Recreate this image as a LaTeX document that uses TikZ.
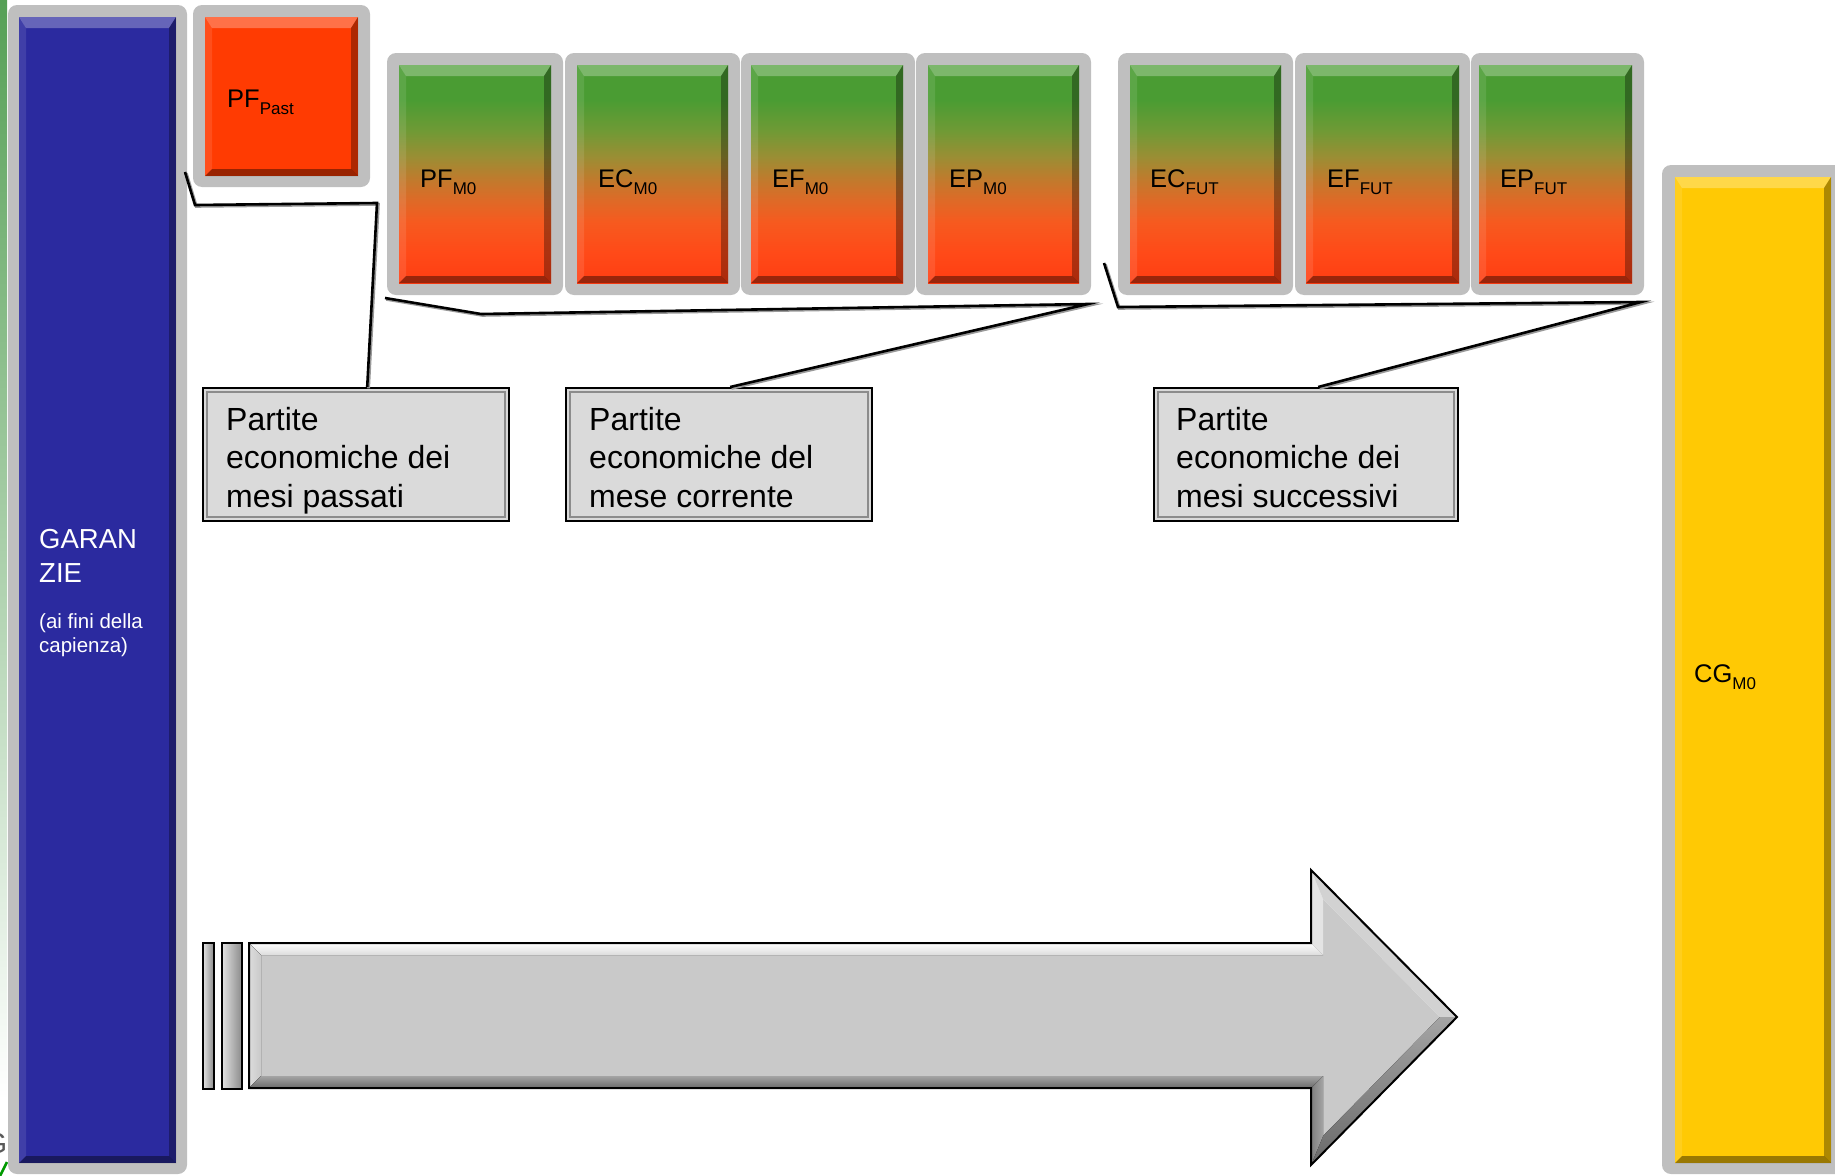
\documentclass[tikz,border=0pt]{standalone}
\usepackage{fontspec}
\setmainfont{Liberation Sans}
\usetikzlibrary{calc}
\definecolor{frameGray}{HTML}{BFBFBF}
\definecolor{blueFill}{HTML}{2B2A9F}
\definecolor{pastFill}{HTML}{FF3B02}
\definecolor{yelFill}{HTML}{FFC904}
\definecolor{gTop}{HTML}{4A9C33}
\definecolor{gB}{HTML}{6F9A35}
\definecolor{gC}{HTML}{9A8E34}
\definecolor{gD}{HTML}{BF7B2D}
\definecolor{gE}{HTML}{DE6A27}
\definecolor{gF}{HTML}{F65A1F}
\definecolor{gG}{HTML}{FF4A18}
\definecolor{gBot}{HTML}{FF3D12}
\definecolor{boxFill}{HTML}{DADADA}
\definecolor{innerLine}{HTML}{8C8C8C}
\definecolor{stripTop}{HTML}{56A056}
\definecolor{stripMid}{HTML}{BBD7B5}
\definecolor{arTop}{HTML}{F4F4F4}
\definecolor{arLeft}{HTML}{DCDCDC}
\definecolor{arHU}{HTML}{E4E4E4}
\definecolor{arDU}{HTML}{D2D2D2}
\definecolor{arDL}{HTML}{7E7E7E}
\definecolor{arHL}{HTML}{A4A4A4}
\definecolor{arBot}{HTML}{8E8E8E}
\definecolor{arIn}{HTML}{C9C9C9}
\definecolor{arDark}{HTML}{6A6A6A}
\definecolor{stripeL}{HTML}{E2E2E2}
\definecolor{stripeR}{HTML}{8A8A8A}
\pgfdeclareverticalshading{grd}{100bp}{color(0bp)=(gBot); color(25bp)=(gBot); color(32bp)=(gG); color(39bp)=(gF); color(44bp)=(gE); color(49bp)=(gD); color(54bp)=(gC); color(60bp)=(gB); color(67bp)=(gTop); color(100bp)=(gTop)}
\newcommand\sublab[2]{#1\raisebox{-7pt}{\fontsize{17pt}{17pt}\selectfont #2}}
\newcommand\fnLab{\fontsize{25.5pt}{30pt}\selectfont}
\newcommand\fnBox{\fontsize{32pt}{38pt}\selectfont}
\newcommand\fnGar{\fontsize{27.5pt}{33pt}\selectfont}
\newcommand\fnGarS{\fontsize{20.5pt}{24pt}\selectfont}
\begin{document}
\begin{tikzpicture}[x=1pt,y=-1pt,
  frame/.style={fill=frameGray, rounded corners=9pt},
  bevel/.style={path picture={
    \fill[white,opacity=.28] (path picture bounding box.north west) -- (path picture bounding box.north east) -- ([shift={(-7,11)}]path picture bounding box.north east) -- ([shift={(7,11)}]path picture bounding box.north west) -- cycle;
    \fill[white,opacity=.1] (path picture bounding box.north west) -- ([shift={(7,11)}]path picture bounding box.north west) -- ([shift={(7,-7)}]path picture bounding box.south west) -- (path picture bounding box.south west) -- cycle;
    \fill[black,opacity=.32] (path picture bounding box.north east) -- ([shift={(-7,11)}]path picture bounding box.north east) -- ([shift={(-7,-7)}]path picture bounding box.south east) -- (path picture bounding box.south east) -- cycle;
    \fill[black,opacity=.4] (path picture bounding box.south west) -- ([shift={(7,-7)}]path picture bounding box.south west) -- ([shift={(-7,-7)}]path picture bounding box.south east) -- (path picture bounding box.south east) -- cycle;
  }},
  cbox/.style={inner sep=0pt, outer sep=0pt, anchor=north west, bevel},
  gbox/.style={cbox, shade, shading=grd, minimum height=218pt},
  lab/.style={inner sep=0pt, anchor=base west, font=\fnLab},
  gar/.style={inner sep=0pt, anchor=base west, text=white},
  tbox/.style={draw=black, line width=2.4pt, fill=boxFill, inner sep=0pt, anchor=north west,
    minimum height=133pt,
    path picture={\draw[line width=2pt, innerLine] ([shift={(4,4)}]path picture bounding box.north west) rectangle ([shift={(-4,-4)}]path picture bounding box.south east);}},
  btxt/.style={inner sep=0pt, anchor=base west, font=\fnBox},
  callout/.style={draw=black, line width=2.6pt, line join=miter,
    preaction={draw=black!40, line width=3pt, transform canvas={shift={(1.3,1.3)}}}},
  stripe/.style={draw=black, line width=1.8pt, left color=stripeL, right color=stripeR}
]
\useasboundingbox (0,0) rectangle (1835,1175);
% left decorative strip and cut-off logo
\fill[top color=stripTop, middle color=stripMid, bottom color=white] (0,0) rectangle (7,1100);
\node[inner sep=0pt, anchor=base east, text=black!65, font=\fontsize{29pt}{30pt}\selectfont] (logoG) at (7.5,1153) {G};
\draw[green!60!black, line width=2.5pt] (0,1176) -- (7,1162);
% gray frames
\fill[frame] (8,5) rectangle (187,1174);
\fill[frame] (193,5) rectangle (370,187);
\foreach \a/\b in {387/563, 565/740, 741/915, 916/1091, 1118/1293, 1295/1470, 1471/1644}
  \fill[frame] (\a,53) rectangle (\b,295);
\fill[frame] (1662,165) rectangle (1850,1174);
% coloured boxes
\node[cbox, fill=blueFill, minimum width=157pt, minimum height=1146pt] (gar) at (19,17) {};
\node[cbox, fill=pastFill, minimum width=153pt, minimum height=159pt] (pfpast) at (205,17) {};
\node[gbox, minimum width=152pt] (pfm) at (399,65) {};
\node[gbox, minimum width=151pt] (ecm) at (577,65) {};
\node[gbox, minimum width=152pt] (efm) at (751,65) {};
\node[gbox, minimum width=151pt] (epm) at (928,65) {};
\node[gbox, minimum width=151pt] (ecf) at (1130,65) {};
\node[gbox, minimum width=153pt] (eff) at (1306,65) {};
\node[gbox, minimum width=153pt] (epf) at (1479,65) {};
\node[cbox, fill=yelFill, minimum width=156pt, minimum height=986pt] (cg) at (1675,177) {};
% labels
\node[lab] (lpfpast) at (227,107) {\sublab{PF}{Past}};
\node[lab] (lpfm) at (420,187) {\sublab{PF}{M0}};
\node[lab] (lecm) at (598,187) {\sublab{EC}{M0}};
\node[lab] (lefm) at (772,187) {\sublab{EF}{M0}};
\node[lab] (lepm) at (949,187) {\sublab{EP}{M0}};
\node[lab] (lecf) at (1150,187) {\sublab{EC}{FUT}};
\node[lab] (leff) at (1327,187) {\sublab{EF}{FUT}};
\node[lab] (lepf) at (1500,187) {\sublab{EP}{FUT}};
\node[lab] (lcg) at (1694,682) {\sublab{CG}{M0}};
\node[gar, font=\fnGar] (g1) at (39,548) {GARAN};
\node[gar, font=\fnGar] (g2) at (39,582) {ZIE};
\node[gar, font=\fnGarS] (g3) at (39,628) {(ai fini della};
\node[gar, font=\fnGarS] (g4) at (39,652) {capienza)};
% text boxes
\node[tbox, minimum width=306pt] (box1) at (202,387) {};
\node[tbox, minimum width=306pt] (box2) at (565,387) {};
\node[tbox, minimum width=304pt] (box3) at (1153,387) {};
\node[btxt] (b1a) at (226,430) {Partite};
\node[btxt] (b1b) at (226,468) {economiche dei};
\node[btxt] (b1c) at (226,507) {mesi passati};
\node[btxt] (b2a) at (589,430) {Partite};
\node[btxt] (b2b) at (589,468) {economiche del};
\node[btxt] (b2c) at (589,507) {mese corrente};
\node[btxt] (b3a) at (1176,430) {Partite};
\node[btxt] (b3b) at (1176,468) {economiche dei};
\node[btxt] (b3c) at (1176,507) {mesi successivi};
% callout brackets
\coordinate (c1a) at (185,172);
\coordinate (c1b) at (195,205);
\coordinate (c1c) at (377,203);
\coordinate (c2a) at (385,298);
\coordinate (c2b) at (481,314);
\coordinate (c2c) at (1088,304);
\coordinate (c3a) at (1104,263);
\coordinate (c3b) at (1118,307);
\coordinate (c3c) at (1641,302);
\draw[callout] (c1a) -- (c1b) -- (c1c) -- ($(box1.north)+(11,0)$);
\draw[callout] (c2a) -- (c2b) -- (c2c) -- ($(box2.north)+(11,0)$);
\draw[callout] (c3a) -- (c3b) -- (c3c) -- ($(box3.north)+(12,0)$);
% big arrow
\fill[arIn] (261,955) -- (1323,955) -- (1323,899) -- (1440,1017) -- (1323,1136) -- (1323,1076) -- (261,1076) -- cycle;
\fill[top color=white, bottom color=arLeft] (249,943) -- (1311,943) -- (1323,955) -- (261,955) -- cycle;
\fill[left color=arLeft, right color=arIn] (249,943) -- (261,955) -- (261,1076) -- (249,1088) -- cycle;
\fill[arHU] (1311,943) -- (1311,870) -- (1323,899) -- (1323,955) -- cycle;
\fill[arDU] (1311,870) -- (1457,1017) -- (1440,1017) -- (1323,899) -- cycle;
\fill[top color=arHL, bottom color=arDark] (1457,1017) -- (1311,1165) -- (1323,1136) -- (1440,1017) -- cycle;
\fill[left color=arDL, right color=arHL] (1311,1165) -- (1311,1088) -- (1323,1076) -- (1323,1136) -- cycle;
\fill[top color=arHL, bottom color=arDark] (1311,1088) -- (249,1088) -- (261,1076) -- (1323,1076) -- cycle;
\draw[line width=2pt, line join=miter] (249,943) -- (1311,943) -- (1311,870) -- (1457,1017) -- (1311,1165) -- (1311,1088) -- (249,1088) -- cycle;
\draw[stripe] (203,943) rectangle (214,1089);
\draw[stripe] (222,943) rectangle (242,1089);
\end{tikzpicture}
\end{document}
